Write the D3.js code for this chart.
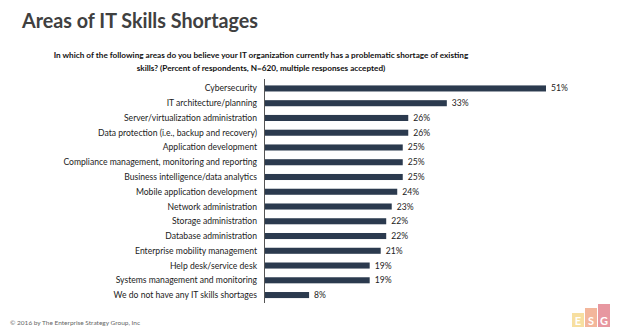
<!DOCTYPE html>
<html><head><meta charset="utf-8">
<script src="https://cdn.jsdelivr.net/npm/d3@7"></script>
<style>body{margin:0;background:#fff}svg{display:block}</style>
</head><body>
<script>
const categories = [
  "Cybersecurity",
  "IT architecture/planning",
  "Server/virtualization administration",
  "Data protection (i.e., backup and recovery)",
  "Application development",
  "Compliance management, monitoring and reporting",
  "Business intelligence/data analytics",
  "Mobile application development",
  "Network administration",
  "Storage administration",
  "Database administration",
  "Enterprise mobility management",
  "Help desk/service desk",
  "Systems management and monitoring",
  "We do not have any IT skills shortages"
];
const values = [51, 33, 26, 26, 25, 25, 25, 24, 23, 22, 22, 21, 19, 19, 8];
const titleText = "Areas of IT Skills Shortages";
const subtitleLines = [
  "In which of the following areas do you believe your IT organization currently has a problematic shortage of existing",
  "skills? (Percent of respondents, N=620, multiple responses accepted)"
];
const footerText = "\u00a9 2016 by The Enterprise Strategy Group, Inc";
const logoLetters = ["E", "S", "G"];

const W = 624, H = 332;
const svg = d3.select("body").append("svg").attr("width", W).attr("height", H);
const font = "Lato, 'Open Sans', sans-serif";

svg.append("text").attr("x", 22).attr("y", 28)
  .attr("font-family", font).attr("font-weight", 700).attr("font-size", 21)
  .attr("fill", "#404040").text(titleText)
  .each(function(){ const l=this.getComputedTextLength(); if(l>236){ d3.select(this).attr("textLength",236).attr("lengthAdjust","spacingAndGlyphs"); } });

subtitleLines.forEach((s, i) => {
  svg.append("text").attr("x", 261).attr("y", 58 + i * 13)
    .attr("text-anchor", "middle")
    .attr("font-family", font).attr("font-weight", 700).attr("font-size", 8.2)
    .attr("fill", "#111").text(s);
});

const x0 = 265;
const x = d3.scaleLinear().domain([0, 51]).range([x0, 546]);
const y = d3.scaleBand().domain(categories).range([81, 302.5]).paddingInner(0.59).paddingOuter(0.3);

const g = svg.append("g");
g.selectAll("rect.bar").data(values).join("rect")
  .attr("class", "bar")
  .attr("x", x(0)).attr("y", (d, i) => y(categories[i]))
  .attr("width", d => x(d) - x(0)).attr("height", y.bandwidth())
  .attr("fill", "#2b3a4e");

g.append("line").attr("x1", x0 - 0.5).attr("x2", x0 - 0.5).attr("y1", 79).attr("y2", 303)
  .attr("stroke", "#555").attr("stroke-width", 1);

g.selectAll("text.cat").data(categories).join("text")
  .attr("class", "cat")
  .attr("x", x0 - 8).attr("y", d => y(d) + y.bandwidth() / 2)
  .attr("dy", "0.35em").attr("text-anchor", "end")
  .attr("font-family", font).attr("font-size", 8.6).attr("fill", "#222")
  .text(d => d);

g.selectAll("text.val").data(values).join("text")
  .attr("class", "val")
  .attr("x", d => x(d) + 5).attr("y", (d, i) => y(categories[i]) + y.bandwidth() / 2)
  .attr("dy", "0.35em")
  .attr("font-family", font).attr("font-size", 8.6).attr("fill", "#222")
  .text(d => d + "%");

svg.append("text").attr("x", 10).attr("y", 325)
  .attr("font-family", font).attr("font-size", 6.5).attr("fill", "#666")
  .text(footerText);

const logoColors = ["#f6d98f", "#f1a98a", "#e3858f"];
const logoTops = [313, 308, 304];
const logoX = [572, 585, 598];
logoLetters.forEach((L, i) => {
  svg.append("rect").attr("x", logoX[i]).attr("y", logoTops[i]).attr("width", 12)
    .attr("height", 327 - logoTops[i]).attr("fill", logoColors[i]).attr("opacity", 0.85);
  svg.append("text").attr("x", logoX[i] + 6).attr("y", 325).attr("text-anchor", "middle")
    .attr("font-family", font).attr("font-weight", 700).attr("font-size", 11).attr("fill", "#fff")
    .text(L);
});
</script>
</body></html>
